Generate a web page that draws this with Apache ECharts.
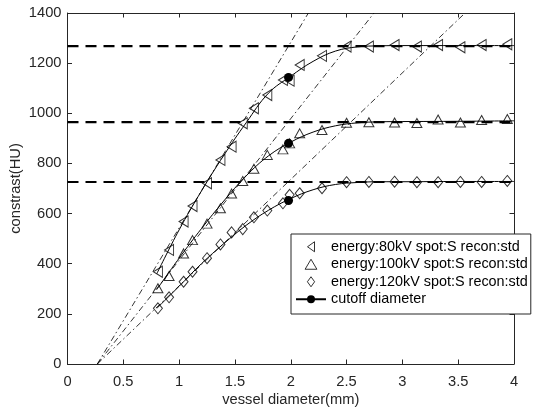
<!DOCTYPE html>
<html>
<head>
<meta charset="utf-8">
<script src="https://cdn.jsdelivr.net/npm/echarts@6/dist/echarts.min.js"></script>
<style>html,body{margin:0;padding:0;background:#fff}#c{width:545px;height:415px}</style>
</head>
<body>
<div id="c"></div>
<script>
// ---- data ----
const xTicks = [0, 0.5, 1, 1.5, 2, 2.5, 3, 3.5, 4];
const yTicks = [0, 200, 400, 600, 800, 1000, 1200, 1400];
const diam = [0.81, 0.91, 1.04, 1.12, 1.25, 1.37, 1.47, 1.57, 1.67, 1.79, 1.93, 1.99, 2.08, 2.28, 2.50, 2.70, 2.93, 3.13, 3.32, 3.52, 3.71, 3.94];
const c80  = [368, 455, 568, 630, 721, 814, 867, 960, 1020, 1073, 1133, 1130, 1193, 1229, 1266, 1266, 1272, 1266, 1272, 1263, 1272, 1275];
const c100 = [302, 351, 441, 494, 560, 621, 680, 730, 779, 834, 856, 880, 920, 933, 962, 964, 963, 961, 975, 963, 973, 977];
const c120 = [222, 266, 328, 368, 422, 477, 525, 538, 585, 612, 641, 675, 681, 701, 725, 726, 727, 725, 725, 726, 726, 730];
const fitX   = [0.8, 1.0, 1.2, 1.4, 1.6, 1.8, 2.0, 2.2, 2.4, 2.6, 2.8, 3.0, 3.5, 4.0];
const fit80  = [360, 535, 690, 832, 962, 1080, 1148, 1207, 1248, 1265, 1269, 1270, 1270, 1270];
const fit100 = [297, 422, 540, 650, 750, 830, 885, 925, 950, 962, 966, 967, 968, 970];
const fit120 = [222, 310, 400, 480, 553, 613, 660, 695, 716, 724, 727, 727, 728, 728];
const plateau = [1268, 965, 726];
const cutoffX = 1.98;
const cutoffY = [1143, 880, 652];
const asymStart = [0.267, 0];
const asymTopX = [2.158, 2.746, 3.562];
const names = ['energy:80kV spot:S recon:std', 'energy:100kV spot:S recon:std', 'energy:120kV spot:S recon:std', 'cutoff diameter'];

// ---- chart ----
const axisColor = '#262626';
const FONT = 'Liberation Sans, Arial, sans-serif';
const leftTri = 'path://M9,0 L0,5.5 L9,11 Z';
const zip = (xs, ys) => xs.map((x, i) => [x, ys[i]]);
const hollow = {color: 'rgba(0,0,0,0)', borderColor: '#000', borderWidth: 1};

const series = [];
plateau.forEach(v => series.push({
  type: 'line', data: [[0, v], [4, v]], symbol: 'none', silent: true,
  lineStyle: {color: '#000', width: 2.2, type: [11, 7]}, z: 1
}));
asymTopX.forEach(x => series.push({
  type: 'line', data: [asymStart, [x, 1400]], symbol: 'none', silent: true,
  lineStyle: {color: '#000', width: 0.8, type: [6, 3, 1.5, 3]}, z: 1
}));
[fit80, fit100, fit120].forEach(f => series.push({
  type: 'line', data: zip(fitX, f), symbol: 'none', smooth: 0.4, silent: true,
  lineStyle: {color: '#000', width: 1}, z: 2
}));
series.push({name: names[0], type: 'scatter', data: zip(diam, c80), symbol: leftTri, symbolSize: [9, 11], itemStyle: hollow, z: 3});
series.push({name: names[1], type: 'scatter', data: zip(diam, c100), symbol: 'triangle', symbolSize: [10, 9], itemStyle: hollow, z: 3});
series.push({name: names[2], type: 'scatter', data: zip(diam, c120), symbol: 'diamond', symbolSize: [9, 11], itemStyle: hollow, z: 3});
const cutData = [];
cutoffY.forEach((y, i) => { if (i) cutData.push([cutoffX, '-']); cutData.push([cutoffX, y]); });
series.push({name: names[3], type: 'line', data: cutData, symbol: 'circle', symbolSize: 9, showAllSymbol: true,
  connectNulls: false, itemStyle: {color: '#000'}, lineStyle: {color: '#000', width: 1}, z: 4});

const baseX = {type: 'value', min: xTicks[0], max: xTicks[xTicks.length - 1], interval: 0.5,
  axisLine: {show: true, onZero: false, lineStyle: {color: axisColor, width: 1}},
  axisTick: {show: true, inside: true, length: 4.5, lineStyle: {color: axisColor}},
  splitLine: {show: false}};
const baseY = {type: 'value', min: yTicks[0], max: yTicks[yTicks.length - 1], interval: 200,
  axisLine: {show: true, onZero: false, lineStyle: {color: axisColor, width: 1}},
  axisTick: {show: true, inside: true, length: 4.5, lineStyle: {color: axisColor}},
  splitLine: {show: false}};

const option = {
  animation: false,
  backgroundColor: '#fff',
  textStyle: {fontFamily: FONT},
  grid: {left: 67.5, right: 31, top: 13, bottom: 51, containLabel: false, outerBoundsMode: 'none'},
  xAxis: [
    Object.assign({}, baseX, {position: 'bottom', name: 'vessel diameter(mm)', nameLocation: 'middle', nameGap: 28,
      nameMoveOverlap: false,
      nameTextStyle: {fontSize: 14.7, color: axisColor, fontFamily: FONT},
      axisLabel: {show: true, margin: 10, fontSize: 14.7, color: axisColor, fontFamily: FONT, formatter: v => String(v)}}),
    Object.assign({}, baseX, {position: 'top', axisLabel: {show: false}})
  ],
  yAxis: [
    Object.assign({}, baseY, {position: 'left', name: 'constrast(HU)', nameLocation: 'middle', nameGap: 44,
      nameMoveOverlap: false,
      nameTextStyle: {fontSize: 14.7, color: axisColor, fontFamily: FONT},
      axisLabel: {show: true, margin: 6, fontSize: 14.7, color: axisColor, fontFamily: FONT, formatter: v => String(v)}}),
    Object.assign({}, baseY, {position: 'right', axisLabel: {show: false}})
  ],
  legend: {
    orient: 'vertical', left: 291, top: 234,
    padding: [4, 3, 6, 4], itemGap: 0, itemWidth: 30, itemHeight: 10, itemTextGap: 4,
    backgroundColor: '#fff', borderColor: axisColor, borderWidth: 1,
    textStyle: {fontSize: 14.4, color: '#000', fontFamily: FONT, lineHeight: 17.5},
    data: [
      {name: names[0], icon: 'path://M7,0 L0,5 L7,10 Z', itemStyle: hollow},
      {name: names[1], icon: 'path://M5,0 L10,8.5 L0,8.5 Z', itemStyle: hollow},
      {name: names[2], icon: 'path://M3.6,0 L7.2,5 L3.6,10 L0,5 Z', itemStyle: hollow},
      {name: names[3]}
    ],
    selectedMode: false
  },
  series: series
};
echarts.init(document.getElementById('c'), null, {renderer: 'canvas'}).setOption(option);
</script>
</body>
</html>
